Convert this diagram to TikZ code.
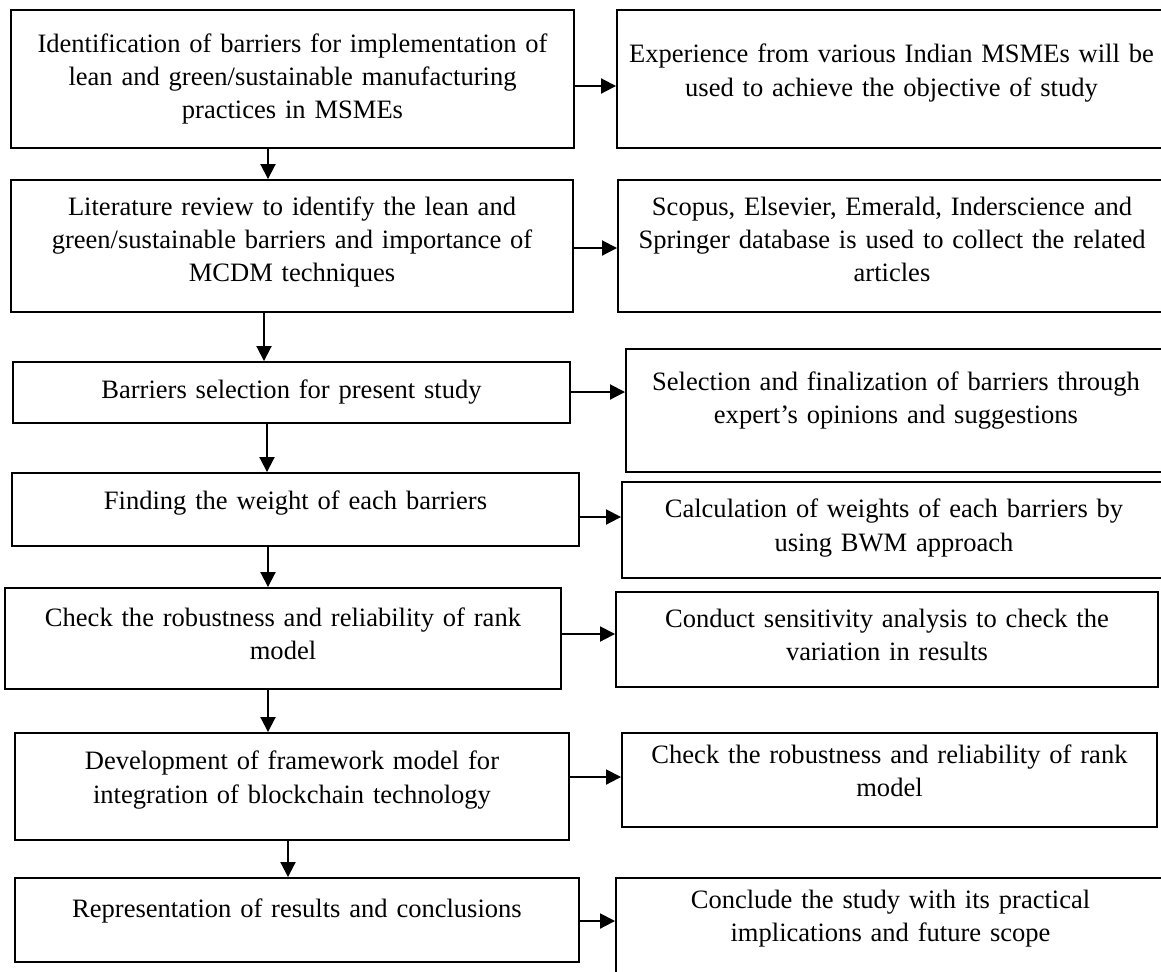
\documentclass[tikz,border=0pt]{standalone}
\usepackage{fontspec}
\setmainfont{Liberation Serif}
\usetikzlibrary{arrows.meta}
\newcommand\liftgap[1]{\endgraf\vspace*{#1}}

\begin{document}
\begin{tikzpicture}[
    stage/.style={
        rectangle,
        draw=black,
        line width=1.1pt,
        inner sep=0pt,
        text width=10.6cm,
        align=center,
        font=\fontsize{15.1pt}{18.8pt}\selectfont
    },
    lift/.style={
        execute at end node={\liftgap{#1}}
    },
    arrowd/.style={
        -{Triangle[length=3mm, width=3mm]},
        line width=1.1pt,
        draw=black
    }
]

\useasboundingbox (0,0) rectangle (23.22,-19.42);

% ------------------------------------------------
% Main steps (left column)
% ------------------------------------------------
\node[stage, minimum width=11.26cm, minimum height=2.76cm] (st1) at (5.85,-1.58)
    {Identification of barriers for implementation of\\ lean and green/sustainable manufacturing\\ practices in MSMEs};
\node[stage, lift=0.16cm, minimum width=11.24cm, minimum height=2.64cm] (st2) at (5.84,-4.92)
    {Literature review to identify the lean and\\ green/sustainable barriers and importance of\\ MCDM techniques};
\node[stage, minimum width=11.14cm, minimum height=1.22cm] (st3) at (5.83,-7.85)
    {Barriers selection for present study};
\node[stage, lift=0.26cm, minimum width=11.34cm, minimum height=1.46cm] (st4) at (5.91,-10.19)
    {Finding the weight of each barriers};
\node[stage, lift=0.18cm, minimum width=11.12cm, minimum height=2.02cm] (st5) at (5.66,-12.77)
    {Check the robustness and reliability of rank\\ model};
\node[stage, lift=0.26cm, minimum width=11.08cm, minimum height=2.14cm] (st6) at (5.84,-15.73)
    {Development of framework model for\\ integration of blockchain technology};
\node[stage, lift=0.36cm, minimum width=11.28cm, minimum height=1.68cm] (st7) at (5.94,-18.40)
    {Representation of results and conclusions};

% ------------------------------------------------
% Details (right column)
% ------------------------------------------------
\node[stage, lift=0.24cm, minimum width=10.98cm, minimum height=2.76cm] (ds1) at (17.83,-1.58)
    {Experience from various Indian MSMEs will be\\ used to achieve the objective of study};
\node[stage, lift=0.28cm, minimum width=10.96cm, minimum height=2.64cm] (ds2) at (17.84,-4.92)
    {Scopus, Elsevier, Emerald, Inderscience and\\ Springer database is used to collect the related\\ articles};
\node[stage, lift=0.4cm, minimum width=10.80cm, minimum height=2.46cm] (ds3) at (17.92,-8.21)
    {Selection and finalization of barriers through\\ expert’s opinions and suggestions};
\node[stage, lift=0.08cm, minimum width=10.88cm, minimum height=1.92cm] (ds4) at (17.88,-10.60)
    {Calculation of weights of each barriers by\\ using BWM approach};
\node[stage, lift=0.18cm, minimum width=10.84cm, minimum height=1.90cm] (ds5) at (17.74,-12.79)
    {Conduct sensitivity analysis to check the\\ variation in results};
\node[stage, lift=0.36cm, minimum width=10.70cm, minimum height=1.88cm] (ds6) at (17.79,-15.60)
    {Check the robustness and reliability of rank\\ model};
\node[stage, lift=0.5cm, minimum width=10.98cm, minimum height=2.14cm] (ds7) at (17.81,-18.63)
    {Conclude the study with its practical\\ implications and future scope};

% ------------------------------------------------
% Downward flow
% ------------------------------------------------
\coordinate (v1) at (5.36,0);
\coordinate (v2) at (5.28,0);
\coordinate (v3) at (5.34,0);
\coordinate (v4) at (5.36,0);
\coordinate (v5) at (5.36,0);
\coordinate (v6) at (5.76,0);

\foreach \a/\b/\v in {st1/st2/v1, st2/st3/v2, st3/st4/v3, st4/st5/v4, st5/st6/v5, st6/st7/v6}{
  \draw[arrowd] (\a.south -| \v) -- (\b.north -| \v);
}

% ------------------------------------------------
% Side arrows
% ------------------------------------------------
\foreach \a/\b/\y in {st1/ds1/-1.72, st2/ds2/-4.96, st3/ds3/-7.84, st4/ds4/-10.34, st5/ds5/-12.68, st6/ds6/-15.54, st7/ds7/-18.42}{
  \draw[arrowd] (\a.east |- 0,\y) -- (\b.west |- 0,\y);
}

\end{tikzpicture}
\end{document}
